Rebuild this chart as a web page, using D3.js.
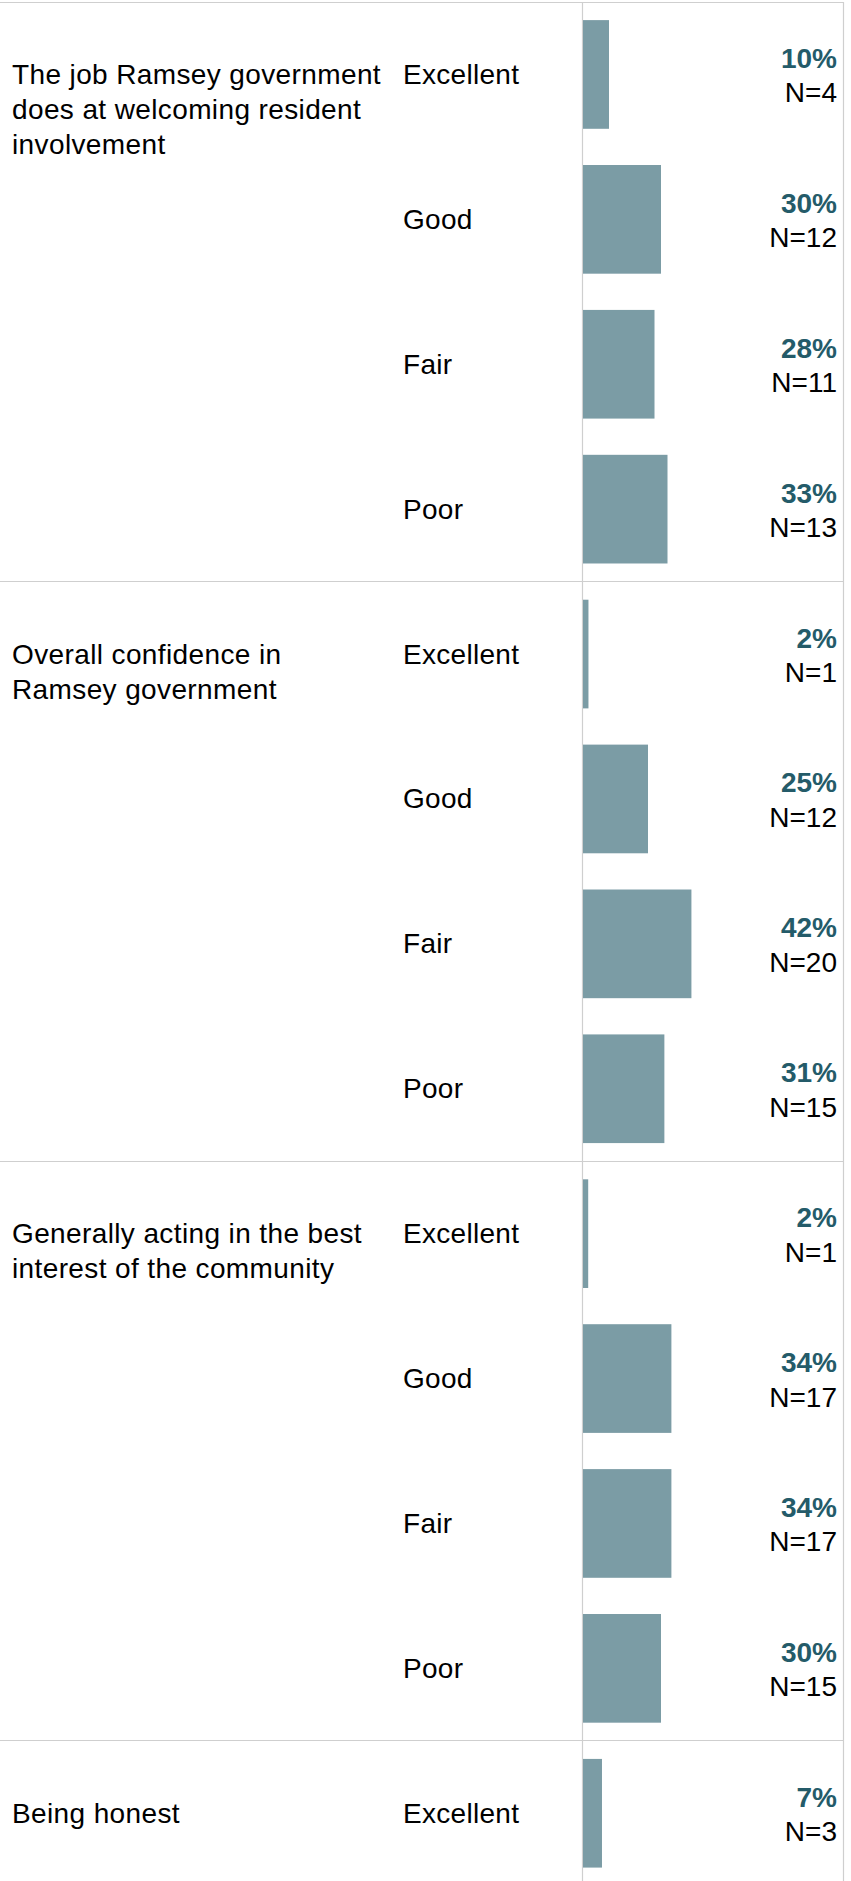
<!DOCTYPE html>
<html>
<head>
<meta charset="utf-8">
<script src="https://cdn.jsdelivr.net/npm/d3@7/dist/d3.min.js"></script>
<style>
  html, body { margin: 0; padding: 0; background: #ffffff; }
  svg { display: block; }
  text { font-family: "Liberation Sans", Arial, Helvetica, sans-serif; }
</style>
</head>
<body>
<div id="chart"></div>
<script>
// ---- data ----
const groupLines = [
  ["The job Ramsey government", "does at welcoming resident", "involvement"],
  ["Overall confidence in", "Ramsey government"],
  ["Generally acting in the best", "interest of the community"],
  ["Being honest"]
];
const categories = ["Excellent", "Good", "Fair", "Poor"];
const pctWelcoming = [10, 30, 27.5, 32.5];
const pctConfidence = [2.1, 25, 41.7, 31.3];
const pctBestInterest = [2, 34, 34, 30];
const pctHonest = [7.3];
const nWelcoming = [4, 12, 11, 13];
const nConfidence = [1, 12, 20, 15];
const nBestInterest = [1, 17, 17, 15];
const nHonest = [3];

const pctByGroup = [pctWelcoming, pctConfidence, pctBestInterest, pctHonest];
const nByGroup = [nWelcoming, nConfidence, nBestInterest, nHonest];

// ---- layout ----
const W = 851, H = 1881;
const fontSize = 28;
const barColor = "#7b9ca5";
const pctColor = "#245b69";
const lineColor = "#cfcfcf";
const rowStep = 144.9;
const y0 = 2;
const rowsPerGroup = categories.length;

const rows = [];
pctByGroup.forEach((vals, g) => {
  vals.forEach((v, i) => {
    rows.push({ key: g + "-" + i, g, i, cat: categories[i], pct: v, n: nByGroup[g][i] });
  });
});
const totalRows = pctByGroup.length * rowsPerGroup;
const rowKeys = d3.range(totalRows).map(k => Math.floor(k / rowsPerGroup) + "-" + (k % rowsPerGroup));

const y = d3.scaleBand()
  .domain(rowKeys)
  .range([y0, y0 + totalRows * rowStep])
  .paddingInner(0.25)
  .paddingOuter(0.125);

const x = d3.scaleLinear().domain([0, 100]).range([583, 843]);

const svg = d3.select("#chart").append("svg")
  .attr("width", W).attr("height", H);

// group separators
const groupTops = d3.range(pctByGroup.length).map(g => y0 + g * rowsPerGroup * rowStep);
svg.selectAll("line.sep").data(groupTops).join("line")
  .attr("class", "sep")
  .attr("x1", 0).attr("x2", 844)
  .attr("y1", d => Math.floor(d) + 0.5).attr("y2", d => Math.floor(d) + 0.5)
  .attr("stroke", lineColor).attr("stroke-width", 1.2);

// vertical axis line and right border
svg.append("line")
  .attr("x1", 582.5).attr("x2", 582.5).attr("y1", y0).attr("y2", H)
  .attr("stroke", lineColor).attr("stroke-width", 1.2);
svg.append("line")
  .attr("x1", 843.5).attr("x2", 843.5).attr("y1", y0).attr("y2", H)
  .attr("stroke", lineColor).attr("stroke-width", 1.2);

// bars
svg.selectAll("rect.bar").data(rows).join("rect")
  .attr("class", "bar")
  .attr("x", x(0))
  .attr("y", d => y(d.key))
  .attr("width", d => x(d.pct) - x(0))
  .attr("height", y.bandwidth())
  .attr("fill", barColor);

// category labels
svg.selectAll("text.cat").data(rows).join("text")
  .attr("class", "cat")
  .attr("x", 403)
  .attr("y", d => y(d.key) + y.bandwidth() / 2 + 9.5)
  .attr("font-size", fontSize)
  .attr("letter-spacing", 0.3)
  .attr("fill", "#000")
  .text(d => d.cat);

// percent labels
svg.selectAll("text.pct").data(rows).join("text")
  .attr("class", "pct")
  .attr("x", 837)
  .attr("y", d => y(d.key) + y.bandwidth() / 2 - 6.5)
  .attr("text-anchor", "end")
  .attr("font-size", fontSize)
  .attr("font-weight", "bold")
  .attr("fill", pctColor)
  .text(d => Math.round(d.pct) + "%");

svg.selectAll("text.n").data(rows).join("text")
  .attr("class", "n")
  .attr("x", 837)
  .attr("y", d => y(d.key) + y.bandwidth() / 2 + 28)
  .attr("text-anchor", "end")
  .attr("font-size", fontSize)
  .attr("fill", "#000")
  .text(d => "N=" + d.n);

// group labels
const gl = svg.selectAll("text.group").data(groupLines).join("text")
  .attr("class", "group")
  .attr("x", 12)
  .attr("y", (d, g) => y(g + "-0") + y.bandwidth() / 2 + 9.5)
  .attr("font-size", fontSize)
  .attr("letter-spacing", 0.38)
  .attr("fill", "#000");
gl.selectAll("tspan").data(d => d).join("tspan")
  .attr("x", 12)
  .attr("dy", (d, i) => i === 0 ? 0 : 35)
  .text(d => d);
</script>
</body>
</html>
